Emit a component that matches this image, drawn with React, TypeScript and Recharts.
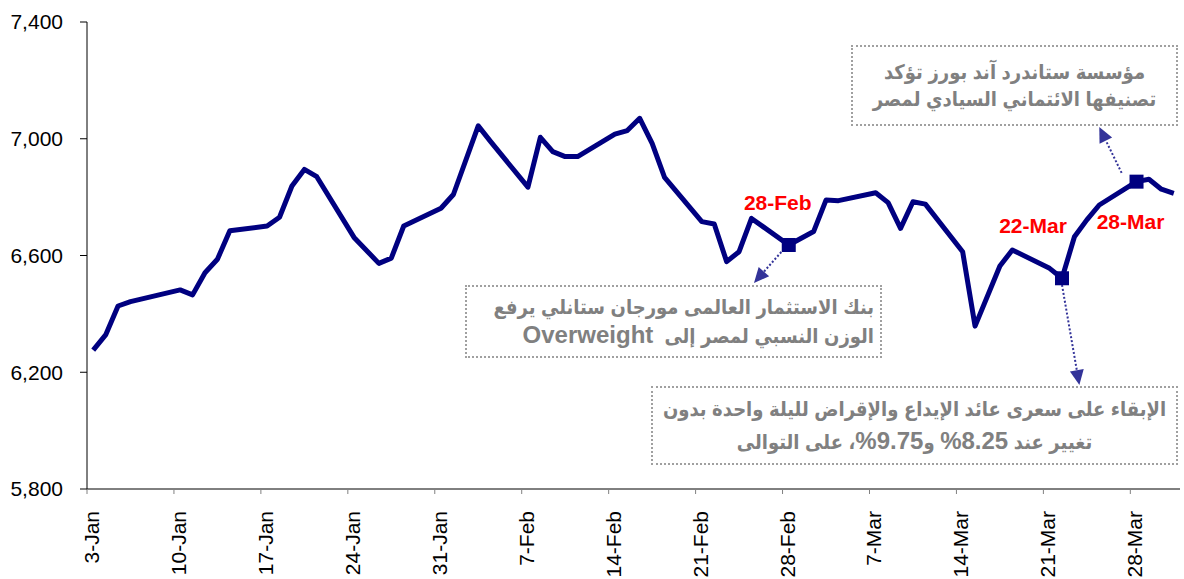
import { LineChart, Line, XAxis, YAxis, ReferenceLine, LabelList } from "recharts";

// EGX index closes, trading days only
const tradingDates = [
  "3-Jan", "4-Jan", "5-Jan", "6-Jan", "10-Jan", "11-Jan", "12-Jan", "13-Jan", "14-Jan",
  "17-Jan", "18-Jan", "19-Jan", "20-Jan", "21-Jan", "24-Jan", "26-Jan", "27-Jan", "28-Jan",
  "31-Jan", "1-Feb", "3-Feb", "4-Feb", "7-Feb", "8-Feb", "9-Feb", "10-Feb", "11-Feb",
  "14-Feb", "15-Feb", "16-Feb", "17-Feb", "18-Feb", "21-Feb", "22-Feb", "23-Feb", "24-Feb",
  "25-Feb", "28-Feb", "2-Mar", "3-Mar", "4-Mar", "7-Mar", "8-Mar", "9-Mar", "10-Mar",
  "11-Mar", "14-Mar", "15-Mar", "17-Mar", "18-Mar", "21-Mar", "22-Mar", "23-Mar", "24-Mar",
  "25-Mar", "28-Mar", "29-Mar", "30-Mar", "31-Mar",
];

const indexValues = [
  6276, 6328, 6427, 6442, 6482, 6465, 6541, 6587, 6685,
  6701, 6731, 6838, 6895, 6870, 6662, 6573, 6591, 6701,
  6762, 6809, 7044, 6990, 6834, 7005, 6956, 6939, 6939,
  7016, 7028, 7070, 6984, 6868, 6716, 6708, 6579, 6613,
  6727, 6636, 6682, 6790, 6788, 6815, 6781, 6693, 6784,
  6776, 6613, 6358, 6564, 6619, 6556, 6522, 6664, 6722,
  6773, 6853, 6861, 6827, 6813,
];

const tickDates = [
  "3-Jan", "10-Jan", "17-Jan", "24-Jan", "31-Jan", "7-Feb", "14-Feb",
  "21-Feb", "28-Feb", "7-Mar", "14-Mar", "21-Mar", "28-Mar",
];
const yTicks = [5800, 6200, 6600, 7000, 7400];
const markedDates = ["28-Feb", "22-Mar", "28-Mar"];

// day number counted from 3-Jan
const monthStart: Record<string, number> = { Jan: -3, Feb: 28, Mar: 56 };
const dayIndex = (label: string) => {
  const [d, m] = label.split("-");
  return monthStart[m] + Number(d);
};

const data = tradingDates.map((date, i) => ({
  date,
  x: dayIndex(date) + 0.5, // points sit in the middle of their day slot
  value: indexValues[i],
}));

const labelOffset: Record<string, [number, number]> = {
  "28-Feb": [-11, -35],
  "22-Mar": [-29, -45],
  "28-Mar": [-6, 47],
};

const arrows = [
  { from: { x: 83.3, y: 6883 }, to: { x: 81.5, y: 7040 } },
  { from: { x: 55.9, y: 6612 }, to: { x: 53.7, y: 6506 } },
  { from: { x: 78.5, y: 6499 }, to: { x: 79.9, y: 6156 } },
];

const font = "Arial, 'Liberation Sans', sans-serif";
const boxFont = "Arial, 'Liberation Sans', 'DejaVu Sans Condensed', 'DejaVu Sans', sans-serif";

const Arrow = (props: any) => {
  const { x1, y1, x2, y2 } = props;
  const ang = Math.atan2(y2 - y1, x2 - x1);
  const len = 15;
  const half = 7;
  const bx = x2 - len * Math.cos(ang);
  const by = y2 - len * Math.sin(ang);
  const px = -Math.sin(ang) * half;
  const py = Math.cos(ang) * half;
  return (
    <g>
      <line x1={x1} y1={y1} x2={bx} y2={by} stroke="#333399" strokeWidth={2} strokeDasharray="2 2" />
      <polygon points={`${x2},${y2} ${bx + px},${by + py} ${bx - px},${by - py}`} fill="#333399" />
    </g>
  );
};

const SquareDot = (props: any) => {
  const { cx, cy, payload, index } = props;
  if (!markedDates.includes(payload.date)) return <g key={`d${index}`} />;
  return <rect key={`d${index}`} x={cx - 7} y={cy - 7} width={14} height={14} fill="#000080" />;
};

const RedLabel = (props: any) => {
  const { x, y, value } = props;
  const off = labelOffset[value];
  if (!off) return null;
  return (
    <text x={x + off[0]} y={y + off[1]} textAnchor="middle" fill="#FF0000"
      fontSize={21} fontWeight="bold" fontFamily={font}>
      {value}
    </text>
  );
};

const DateTick = (props: any) => {
  const { x, payload } = props;
  const label = tickDates.find((d) => dayIndex(d) === payload.value) ?? "";
  return (
    <text transform={`translate(${x + 12},511) rotate(-90)`} textAnchor="end"
      fontSize={21} fontFamily={font} fill="#000">
      {label}
    </text>
  );
};

const boxStyle: React.CSSProperties = {
  position: "absolute",
  boxSizing: "border-box",
  border: "2px dotted #a0a0a0",
  background: "#fff",
  color: "#808080",
  fontFamily: boxFont,
  fontWeight: "bold",
  fontSize: 20,
  lineHeight: "27px",
  direction: "rtl",
  whiteSpace: "nowrap",
  display: "flex",
  flexDirection: "column",
  justifyContent: "center",
};

export default function App() {
  return (
    <div style={{ position: "absolute", left: 0, top: 0, width: 1184, height: 579, background: "#fff" }}>
      <LineChart width={1184} height={579} data={data} margin={{ top: 22, right: 4, left: 0, bottom: 0 }}>
        <XAxis
          dataKey="x"
          type="number"
          domain={[0, 88]}
          ticks={tickDates.map(dayIndex)}
          interval={0}
          height={90}
          axisLine={{ stroke: "#000" }}
          tickLine={{ stroke: "#808080" }}
          tickSize={5}
          tick={<DateTick />}
        />
        <YAxis
          type="number"
          domain={[5800, 7400]}
          ticks={yTicks}
          width={87}
          axisLine={{ stroke: "#000" }}
          tickLine={{ stroke: "#000" }}
          tickSize={7}
          tickMargin={17}
          tick={{ fill: "#000", fontSize: 21, fontFamily: font }}
          tickFormatter={(v: number) => v.toLocaleString("en-US")}
        />
        {arrows.map((a, i) => (
          <ReferenceLine key={i} segment={[a.from, a.to]} shape={Arrow} ifOverflow="visible" />
        ))}
        <Line
          type="linear"
          dataKey="value"
          stroke="#000080"
          strokeWidth={5}
          strokeLinejoin="round"
          dot={SquareDot}
          activeDot={false}
          isAnimationActive={false}
        >
          <LabelList dataKey="date" content={RedLabel} />
        </Line>
      </LineChart>

      <div style={{ ...boxStyle, left: 851, top: 45, width: 327, height: 81, textAlign: "center" }}>
        <div>مؤسسة ستاندرد آند بورز تؤكد</div>
        <div>تصنيفها الائتماني السيادي لمصر</div>
      </div>
      <div style={{ ...boxStyle, left: 465, top: 285, width: 417, height: 73, textAlign: "right", paddingRight: 6 }}>
        <div>بنك الاستثمار العالمى مورجان ستانلي يرفع</div>
        <div>الوزن النسبي لمصر إلى{"\u00a0 "}<span style={{ fontSize: 24 }}>Overweight</span></div>
      </div>
      <div style={{ ...boxStyle, left: 651, top: 386, width: 527, height: 79, textAlign: "center", lineHeight: "31px" }}>
        <div>الإبقاء على سعرى عائد الإيداع والإقراض لليلة واحدة بدون</div>
        <div>تغيير عند <span style={{ fontSize: 24 }}>8.25%</span> و<span style={{ fontSize: 24 }}>9.75%</span>، على التوالى</div>
      </div>
    </div>
  );
}
